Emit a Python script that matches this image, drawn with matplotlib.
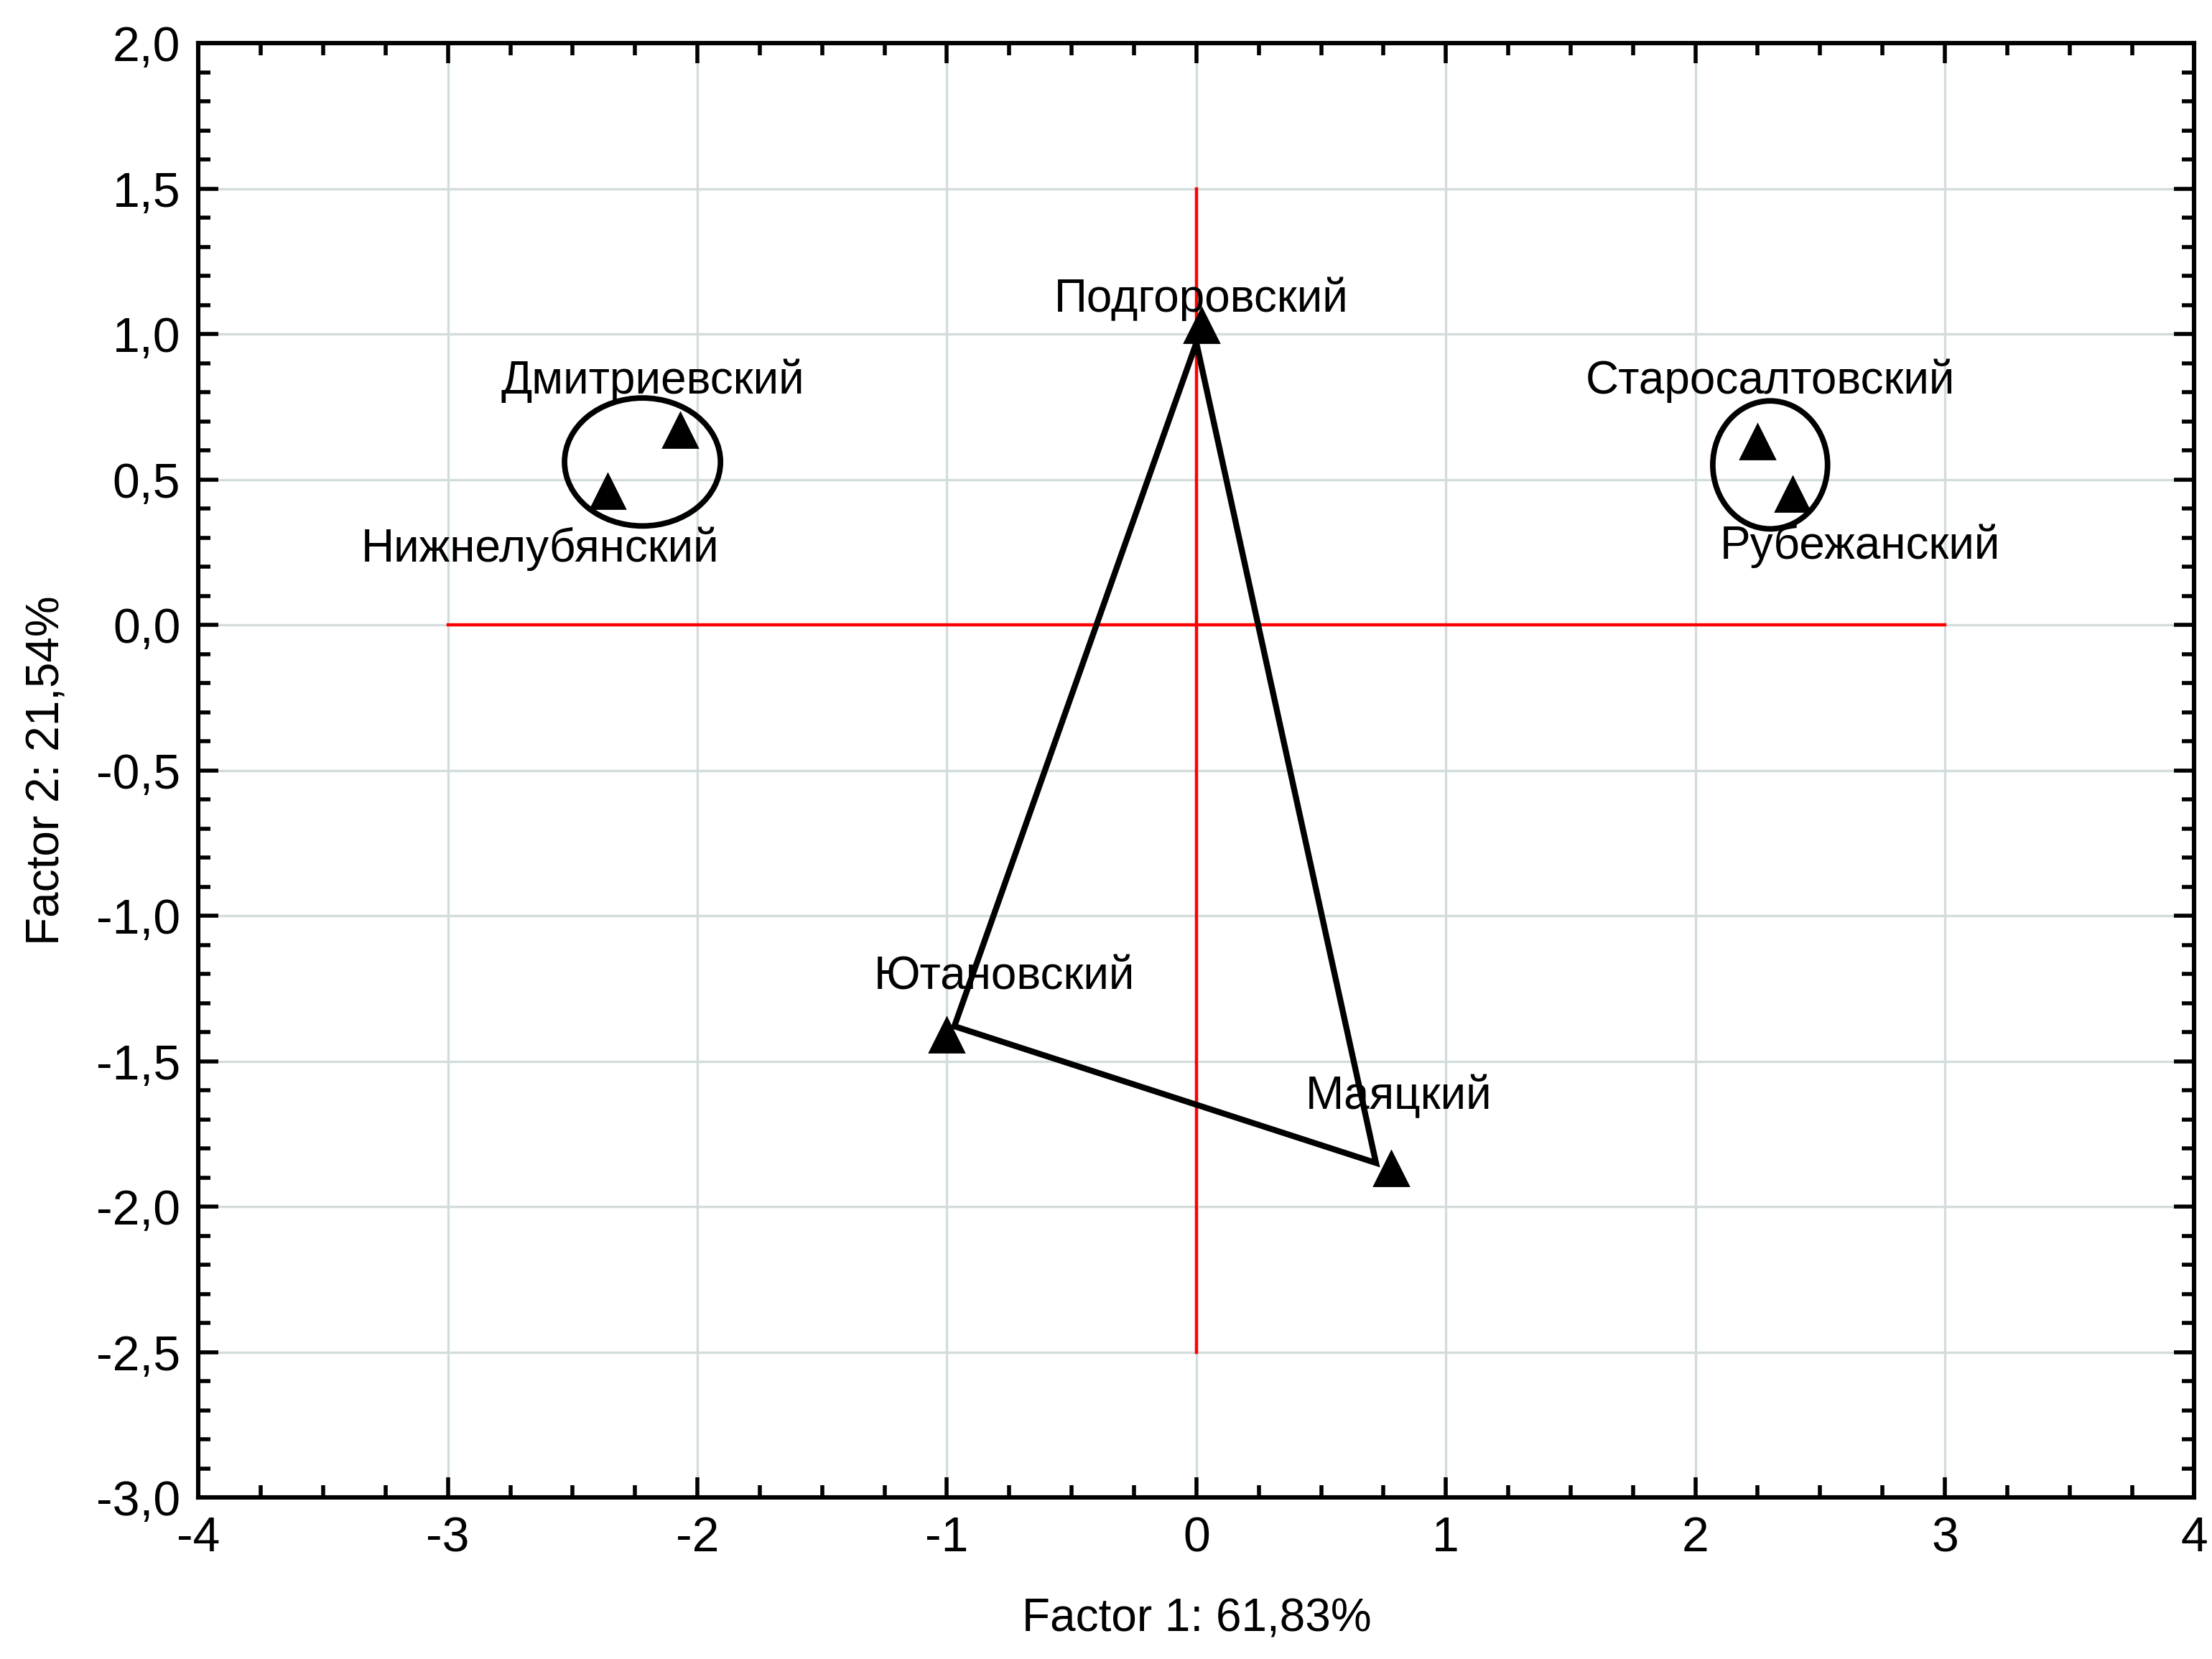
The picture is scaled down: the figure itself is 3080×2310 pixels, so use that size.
import matplotlib
matplotlib.use("Agg")
import matplotlib.pyplot as plt
from matplotlib.patches import Ellipse, Polygon
from matplotlib.ticker import MultipleLocator, FuncFormatter
from matplotlib import font_manager

avail = {f.name for f in font_manager.fontManager.ttflist}
if 'Liberation Sans Narrow' in avail:
    plt.rcParams['font.family'] = ['Liberation Sans Narrow', 'DejaVu Sans']
    TICK, LAB, AX = 27, 25, 25
else:
    plt.rcParams['font.family'] = ['Liberation Sans', 'DejaVu Sans']
    TICK, LAB, AX = 24.5, 23, 23

names = ["Подгоровский", "Дмитриевский", "Нижнелубянский", "Старосалтовский",
         "Рубежанский", "Ютановский", "Маяцкий"]
f1 = [0.02, -2.07, -2.36, 2.25, 2.39, -1.00, 0.78]
f2 = [1.03, 0.67, 0.46, 0.63, 0.45, -1.41, -1.87]
label_x = [0.02, -2.18, -2.63, 2.30, 2.66, -0.77, 0.81]
label_y = [1.12, 0.84, 0.26, 0.84, 0.27, -1.21, -1.62]

poly_x = [0.00, -0.97, 0.72]
poly_y = [0.97, -1.38, -1.85]

ell_cx = [-2.22, 2.30]
ell_cy = [0.56, 0.55]
ell_w = [0.625, 0.46]
ell_h = [0.44, 0.44]

fig = plt.figure(figsize=(15.4, 11.55), dpi=200)
ax = fig.add_axes([0.0897, 0.0974, 0.9023, 0.8766])
ax.set_xlim(-4, 4)
ax.set_ylim(-3, 2)

ax.xaxis.set_major_locator(MultipleLocator(1))
ax.xaxis.set_minor_locator(MultipleLocator(0.25))
ax.yaxis.set_major_locator(MultipleLocator(0.5))
ax.yaxis.set_minor_locator(MultipleLocator(0.1))
ax.xaxis.set_major_formatter(FuncFormatter(lambda v, p: f"{v:.0f}"))
ax.yaxis.set_major_formatter(FuncFormatter(lambda v, p: f"{v:.1f}".replace('.', ',')))
ax.grid(True, which='major', color='#d3dcdc', linewidth=1.2)
ax.set_axisbelow(True)
ax.tick_params(which='both', direction='in', top=True, right=True, width=2, color='black',
               labelsize=TICK, pad=9)
ax.tick_params(which='major', length=10)
ax.tick_params(which='minor', length=6)
for s in ax.spines.values():
    s.set_linewidth(2.2)

ax.plot([-3, 3], [0, 0], color='#ff0000', linewidth=1.6, zorder=2)
ax.plot([0, 0], [-2.5, 1.5], color='#ff0000', linewidth=1.6, zorder=2)

ax.add_patch(Polygon(list(zip(poly_x, poly_y)), closed=True, fill=False,
                     edgecolor='black', linewidth=3.0, zorder=3))
for cx, cy, w, h in zip(ell_cx, ell_cy, ell_w, ell_h):
    ax.add_patch(Ellipse((cx, cy), w, h, fill=False, edgecolor='black', linewidth=2.8, zorder=3))

ax.plot(f1, f2, linestyle='none', marker='^', markersize=17, color='black', zorder=4)
for n, lx, ly in zip(names, label_x, label_y):
    ax.text(lx, ly, n, fontsize=LAB, ha='center', va='center', zorder=5)

ax.set_xlabel("Factor 1: 61,83%", fontsize=AX, labelpad=18)
ax.set_ylabel("Factor 2: 21,54%", fontsize=AX, labelpad=14)

fig.savefig("out.png", dpi=200)
